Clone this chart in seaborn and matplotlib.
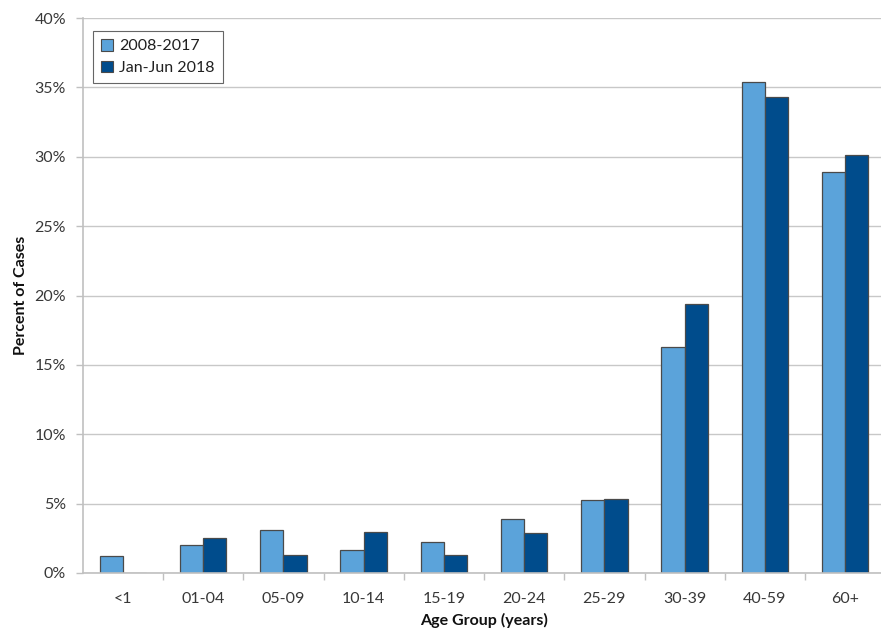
import matplotlib
matplotlib.use("Agg")
import matplotlib.pyplot as plt
from matplotlib.ticker import PercentFormatter
from matplotlib.patches import Patch
import seaborn as sns
import pandas as pd

age_groups = ["<1", "01-04", "05-09", "10-14", "15-19", "20-24", "25-29", "30-39", "40-59", "60+"]
series_names = ["2008-2017", "Jan-Jun 2018"]
pct_2008_2017 = [1.22, 2.05, 3.08, 1.66, 2.26, 3.90, 5.29, 16.3, 35.4, 28.93]
pct_2018 = [0.0, 2.52, 1.27, 2.93, 1.27, 2.89, 5.34, 19.4, 34.28, 30.13]
y_ticks = [0, 5, 10, 15, 20, 25, 30, 35, 40]

colors = ["#5BA3DA", "#004C8C"]

df = pd.DataFrame({
    "Age Group": age_groups * 2,
    "Percent": pct_2008_2017 + pct_2018,
    "Period": [series_names[0]] * len(age_groups) + [series_names[1]] * len(age_groups),
})

sns.set_style("white")
plt.rcParams["font.family"] = ["Lato", "DejaVu Sans"]

fig = plt.figure(figsize=(8.81, 6.34), dpi=100)
ax = fig.add_axes([82.75 / 881, 61 / 634, 802.5 / 881, 555 / 634])

sns.barplot(data=df, x="Age Group", y="Percent", hue="Period", order=age_groups,
            hue_order=series_names, palette=colors, width=0.58, ax=ax,
            edgecolor="#4a4a4a", linewidth=0.9, legend=False, saturation=1)

ax.set_ylim(0, 40)
ax.set_xlim(-0.5, len(age_groups) - 0.5)
ax.set_yticks(y_ticks)
ax.yaxis.set_major_formatter(PercentFormatter(decimals=0))
ax.yaxis.grid(True, color="#c8c8c8", linewidth=1.0)
ax.set_axisbelow(True)

for side in ["top", "right"]:
    ax.spines[side].set_visible(False)
for side in ["left", "bottom"]:
    ax.spines[side].set_color("#c0c0c0")
    ax.spines[side].set_linewidth(1.2)

ax.tick_params(axis="y", which="major", length=5, width=1, color="#c0c0c0",
               labelsize=11.5, labelcolor="#383838", pad=7, left=True)
# category boundary ticks on the x axis
ax.set_xticks([i + 0.5 for i in range(len(age_groups) - 1)], minor=True)
ax.set_xticks(range(len(age_groups)))
ax.set_xticklabels(age_groups)
ax.tick_params(axis="x", which="major", length=0, labelsize=11.5,
               labelcolor="#383838", pad=14)
ax.tick_params(axis="x", which="minor", length=5, width=1, color="#c0c0c0",
               bottom=True)

ax.set_xlabel("Age Group (years)", fontsize=11.5, fontweight="bold", labelpad=5,
              color="#111111")
ax.set_ylabel("Percent of Cases", fontsize=11.5, fontweight="bold", labelpad=5,
              color="#111111")

handles = [Patch(facecolor=c, edgecolor="#4a4a4a", linewidth=0.8) for c in colors]
leg = ax.legend(handles, series_names, loc="upper left",
                bbox_to_anchor=(10 / 802.5, 1 - 13 / 555), borderaxespad=0,
                fontsize=11.5, frameon=True, fancybox=False, handlelength=0.75,
                handleheight=0.75, handletextpad=0.4, borderpad=0.5,
                labelspacing=0.45)
leg.get_frame().set_edgecolor("#404040")
leg.get_frame().set_linewidth(0.8)
leg._legend_box.sep = 4
for t in leg.get_texts():
    t.set_color("#202020")

fig.savefig("out.png", dpi=100)
